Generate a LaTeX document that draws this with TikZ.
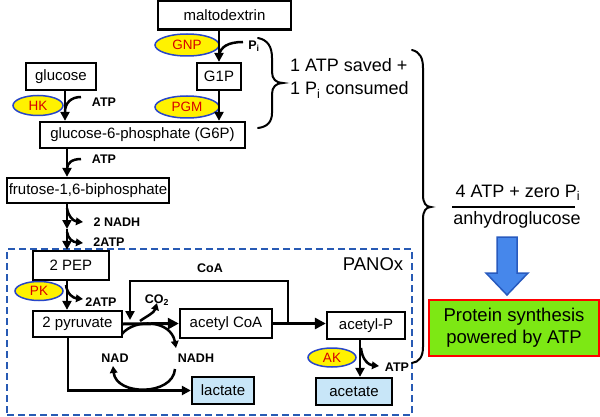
\documentclass[tikz,border=0pt]{standalone}
\usepackage{fontspec}
\setmainfont{Liberation Sans}
\usetikzlibrary{arrows.meta,shapes.geometric}
\definecolor{ellblue}{RGB}{40,70,200}
\definecolor{enzred}{RGB}{215,0,0}
\definecolor{boxblue}{RGB}{200,230,248}
\definecolor{dashblue}{RGB}{40,90,180}
\definecolor{bigarrow}{RGB}{70,135,235}
\definecolor{bigarrowline}{RGB}{40,90,190}
\definecolor{greenfill}{RGB}{125,232,20}
\begin{document}
\begin{tikzpicture}[x=1pt,y=-1pt,
  mbox/.style={draw=black,line width=2.3pt,inner sep=0pt,font=\fontsize{15}{18}\selectfont},
  enz/.style={ellipse,draw=ellblue,line width=1.5pt,fill=yellow,text=enzred,inner sep=0pt,font=\fontsize{13.5}{16}\selectfont},
  lab/.style={inner sep=0pt,font=\bfseries\fontsize{12.5}{15}\selectfont},
  big/.style={inner sep=0pt,font=\fontsize{18}{23}\selectfont},
  arr/.style={line width=2.5pt,-{Triangle[length=9pt,width=9pt]}},
  sarr/.style={line width=2.5pt,-{Triangle[length=7pt,width=7.5pt]}},
  tarr/.style={line width=3pt,-{Triangle[length=11pt,width=11pt]}},
  flow/.style={line width=2.5pt},
  brace/.style={line width=2pt,line cap=round}]
\useasboundingbox (0,0) rectangle (600,417);

% dashed PANOx box
\node[draw=dashblue,line width=2pt,dash pattern=on 7pt off 4pt,minimum width=405,minimum height=166,inner sep=0pt] (panox) at (209.5,332) {};
\node[big,font=\fontsize{18.5}{22}\selectfont] (panoxlab) at (373,264) {PANOx};

% boxes
\node[mbox,minimum width=133,minimum height=29] (malto) at (224.5,15) {maltodextrin};
\node[mbox,minimum width=44,minimum height=27] (g1p) at (219,76.5) {G1P};
\node[mbox,minimum width=70,minimum height=27] (glc) at (61,76.5) {glucose};
\node[mbox,minimum width=205,minimum height=26] (g6p) at (142.5,135) {glucose-6-phosphate (G6P)};
\node[mbox,minimum width=162,minimum height=25] (fru) at (88,190.5) {frutose-1,6-biphosphate};
\node[mbox,minimum width=76,minimum height=29] (pep) at (71,265.5) {2 PEP};
\node[mbox,minimum width=89,minimum height=26] (pyr) at (77.5,324) {2 pyruvate};
\node[mbox,minimum width=92,minimum height=29] (acoa) at (226,323.5) {acetyl CoA};
\node[mbox,minimum width=78,minimum height=27] (acp) at (366,325.5) {acetyl-P};
\node[mbox,fill=boxblue,minimum width=62,minimum height=27] (lac) at (223,390.5) {lactate};
\node[mbox,fill=boxblue,minimum width=76,minimum height=27] (acet) at (354,391.5) {acetate};

% enzymes
\node[enz,minimum width=64,minimum height=22] (gnp) at (187,45) {GNP};
\node[enz,minimum width=64,minimum height=22] (pgm) at (187,107) {PGM};
\node[enz,minimum width=50,minimum height=20] (hk) at (38,105.5) {HK};
\node[enz,minimum width=48,minimum height=19] (pk) at (39,291) {PK};
\node[enz,minimum width=48,minimum height=19] (ak) at (332,357.5) {AK};

% labels
\node[lab] (pi) at (254,46) {P\textsubscript{i}};
\node[lab] (atp1) at (104,102) {ATP};
\node[lab] (atp2) at (104,159) {ATP};
\node[lab] (nadh2) at (117,222) {2 NADH};
\node[lab] (atp3) at (109,242) {2ATP};
\node[lab] (atp4) at (101,302) {2ATP};
\node[lab] (coa) at (210,268) {CoA};
\node[lab] (co2) at (157,300) {CO\textsubscript{2}};
\node[lab] (nad) at (115,358) {NAD};
\node[lab] (nadh) at (196,358) {NADH};
\node[lab] (atp5) at (397,367) {ATP};

% helper coordinates
\coordinate (xg) at (65,0);
\coordinate (xa) at (67,0);
\coordinate (xl) at (68,0);
\coordinate (xp) at (360,0);
\coordinate (m1) at (67,229);
\coordinate (piin) at (243,42);
\coordinate (pijoin) at (219,56);
\coordinate (atpin1) at (81,97);
\coordinate (atpj1) at (65,112);
\coordinate (atpin2) at (81,159);
\coordinate (atpj2) at (67,169);
\coordinate (o1s) at (67,208);
\coordinate (o1e) at (83,222);
\coordinate (o2s) at (67,232);
\coordinate (o2e) at (83,243);
\coordinate (o3s) at (66,285);
\coordinate (o3e) at (83,299);
\coordinate (o4s) at (140,321);
\coordinate (o4e) at (157,303);
\coordinate (o5s) at (361,348);
\coordinate (o5e) at (379,366);
\coordinate (coa1) at (288,323.5);
\coordinate (coa2) at (130,320);
\coordinate (nad1) at (122,334);
\coordinate (nad2) at (176,348);
\coordinate (nad3) at (175,369);
\coordinate (nad4) at (113,366);

% main flow
\draw[arr] (g1p.north |- malto.south) -- (g1p.north);
\draw[arr] (g1p.south) -- (g1p.south |- g6p.north);
\draw[arr] (xg |- glc.south) -- (xg |- g6p.north);
\draw[arr] (xa |- g6p.south) -- (xa |- fru.north);
\draw[arr] (xa |- fru.south) -- (m1);
\draw[arr] (m1) -- (xa |- pep.north);
\draw[arr] (xa |- pep.south) -- (xa |- pyr.north);
\draw[tarr] (pyr.east) -- (acoa.west);
\draw[tarr] (acoa.east) -- (acoa.east -| acp.west);
\draw[arr] (xp |- acp.south) -- (xp |- acet.north);
\draw[arr] (xl |- pyr.south) |- (lac.west);
\draw[arr] (coa1) -- (288,281) -| (coa2);

% side inputs / outputs
\draw[flow] (piin) .. controls (228,42) and (220,47) .. (pijoin);
\draw[flow] (atpin1) .. controls (71,97) and (65,103) .. (atpj1);
\draw[flow] (atpin2) .. controls (72,159) and (67,163) .. (atpj2);
\draw[sarr] (o1s) .. controls (68,216) and (73,221) .. (o1e);
\draw[sarr] (o2s) .. controls (68,239) and (73,242) .. (o2e);
\draw[sarr] (o3s) .. controls (67,294) and (73,298) .. (o3e);
\draw[sarr] (o4s) .. controls (147,316) and (154,313) .. (o4e);
\draw[sarr] (o5s) .. controls (362,360) and (369,365) .. (o5e);

% NAD / NADH cycle
\draw[sarr] (nad1) .. controls (135,318) and (171,320) .. (nad2);
\draw[sarr] (nad3) .. controls (173,396) and (116,396) .. (nad4);

% braces
\draw[brace] (258,38) .. controls (268,40) and (272,47) .. (272,58) -- (272,72)
  .. controls (272,79) and (276,83) .. (283,83)
  .. controls (276,83) and (272,87) .. (272,94) -- (272,113)
  .. controls (272,122) and (267,127) .. (258,128);
\draw[brace] (412,50) .. controls (420,52) and (423,58) .. (423,68) -- (423,195)
  .. controls (423,203) and (426,207) .. (431,207)
  .. controls (426,207) and (423,211) .. (423,219) -- (423,347)
  .. controls (423,357) and (419,362) .. (412,363);

% right texts
\node[big,anchor=west,align=left] (saved) at (290,78.5) {1 ATP saved +\\1 P\textsubscript{i} consumed};
\node[big] (num) at (518,193) {4 ATP + zero P\textsubscript{i}};
\node[big] (den) at (517,220) {anhydroglucose};
\coordinate (fl) at (452,207);
\coordinate (fr) at (575,207);
\draw[line width=1.5pt] (fl) -- (fr);

% big blue arrow
\draw[bigarrowline,fill=bigarrow,line width=1.5pt,line join=miter]
  (497,237) -- (517,237) -- (517,273) -- (528,273) -- (507,295) -- (486,273) -- (497,273) -- cycle;

% result box
\node[draw=red,line width=2pt,fill=greenfill,minimum width=170,minimum height=56,inner sep=0pt,align=center,font=\fontsize{18.5}{22}\selectfont] (prot) at (514,328) {Protein synthesis\\powered by ATP};
\end{tikzpicture}
\end{document}
